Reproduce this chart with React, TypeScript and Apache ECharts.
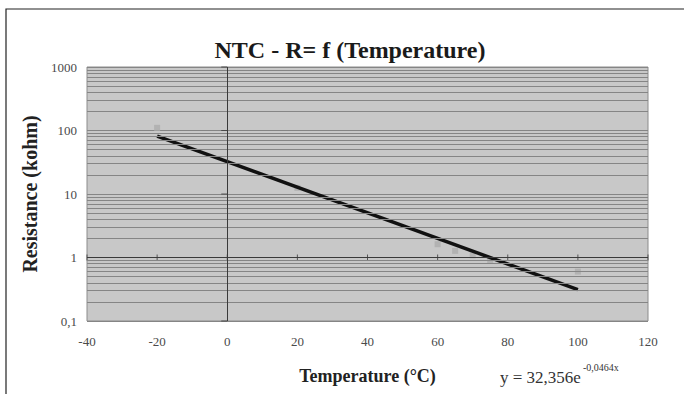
import React, { useEffect, useRef } from "react";
import * as echarts from "echarts";

// Measured points (temperature °C, resistance kohm)
const measuredTemps = [-20, 20, 60, 65, 70, 75, 100];
const measuredRes = [110, 12.5, 1.62, 1.27, 1.08, 0.9, 0.6];

// Exponential trendline endpoints (y = 32,356e^-0,0464x), straight on log scale
const trendTemps = [-20, 100];
const trendRes = [81.8, 0.313];

// Axis ticks
const xTicks = [-40, -20, 0, 20, 40, 60, 80, 100, 120];
const yDecades = [0.1, 1, 10, 100, 1000];
const minorGridValues = [
  0.2, 0.3, 0.4, 0.5, 0.6, 0.7, 0.8, 0.9,
  2, 3, 4, 5, 6, 7, 8, 9,
  20, 30, 40, 50, 60, 70, 80, 90,
  200, 300, 400, 500, 600, 700, 800, 900,
];

const titleText = "NTC - R= f (Temperature)";
const xName = "Temperature (°C)";
const yName = "Resistance (kohm)";
const eqMain = "y = 32,356e";
const eqSup = "-0,0464x";

const SERIF = "Liberation Serif";

export default function App() {
  const ref = useRef<HTMLDivElement>(null);
  useEffect(() => {
    if (!ref.current) return;
    const chart = echarts.init(ref.current, undefined, { renderer: "svg" });
    const scatterData = measuredTemps.map((t, i) => [t, measuredRes[i]]);
    const trendData = trendTemps.map((t, i) => [t, trendRes[i]]);
    const labelStyle = {
      fontFamily: SERIF,
      fontSize: 13,
      color: "#4a4a4a",
    };
    chart.setOption({
      animation: false,
      backgroundColor: "#ffffff",
      textStyle: { fontFamily: SERIF },
      title: {
        text: titleText,
        left: 345,
        textAlign: "center",
        top: 33,
        textStyle: { fontFamily: SERIF, fontWeight: "bold", fontSize: 24, color: "#1a1a1a" },
      },
      grid: {
        left: 87,
        right: 36,
        top: 67,
        bottom: 73,
        show: true,
        backgroundColor: "#c8c8c8",
        borderColor: "#8c8c8c",
        borderWidth: 1,
      },
      xAxis: {
        type: "value",
        min: -40,
        max: 120,
        interval: 20,
        axisLine: { show: false, onZero: false },
        axisTick: { show: false },
        splitLine: { show: false },
        axisLabel: { margin: 14, ...labelStyle },
        name: xName,
        nameLocation: "middle",
        nameGap: 46,
        nameTextStyle: { fontFamily: SERIF, fontWeight: "bold", fontSize: 18, color: "#222" },
      },
      yAxis: {
        type: "log",
        logBase: 10,
        min: 0.1,
        max: 1000,
        axisLine: { show: false, onZero: false },
        axisTick: { show: false },
        splitLine: { show: true, lineStyle: { color: "#858585", width: 1 } },
        axisLabel: {
          margin: 10,
          ...labelStyle,
          formatter: (v: number) => String(v).replace(".", ","),
        },
        name: yName,
        nameLocation: "middle",
        nameGap: 46,
        nameTextStyle: { fontFamily: SERIF, fontWeight: "bold", fontSize: 20, color: "#222" },
      },
      series: [
        {
          type: "line",
          data: [],
          silent: true,
          markLine: {
            silent: true,
            symbol: "none",
            label: { show: false },
            lineStyle: { color: "#858585", width: 1, type: "solid" },
            data: minorGridValues.map((v) => ({ yAxis: v })),
          },
        },
        {
          type: "line",
          data: [],
          silent: true,
          markLine: {
            silent: true,
            symbol: "none",
            label: { show: false },
            lineStyle: { color: "#3a3a3a", width: 1, type: "solid" },
            data: [{ yAxis: 1 }, { xAxis: 0 }],
          },
        },
        {
          type: "scatter",
          silent: true,
          symbol: "rect",
          symbolSize: [1, 6],
          itemStyle: { color: "#3a3a3a" },
          data: xTicks.map((t) => [t, 1]),
        },
        {
          type: "scatter",
          silent: true,
          symbol: "rect",
          symbolSize: [6, 1],
          symbolOffset: [-3, 0],
          itemStyle: { color: "#3a3a3a" },
          data: yDecades.map((v) => [0, v]),
        },
        {
          type: "scatter",
          symbol: "rect",
          symbolSize: 6,
          itemStyle: { color: "#acacac" },
          data: scatterData,
        },
        {
          type: "line",
          symbol: "none",
          lineStyle: { color: "#111", width: 3.5 },
          data: trendData,
        },
      ],
      graphic: [
        {
          type: "rect",
          shape: { x: 6, y: 9, width: 700, height: 420 },
          style: { fill: "none", stroke: "#222", lineWidth: 1.2 },
          silent: true,
        },
        {
          type: "text",
          x: 500,
          y: 377,
          style: {
            text: eqMain,
            fontFamily: SERIF,
            fontSize: 17,
            fill: "#333",
            verticalAlign: "middle",
          },
        },
        {
          type: "text",
          x: 583,
          y: 367,
          style: {
            text: eqSup,
            fontFamily: SERIF,
            fontSize: 10,
            fill: "#333",
            verticalAlign: "middle",
          },
        },
      ],
    });
    return () => chart.dispose();
  }, []);
  return (
    <div
      ref={ref}
      style={{ position: "fixed", left: 0, top: 0, width: 684, height: 394 }}
    />
  );
}
